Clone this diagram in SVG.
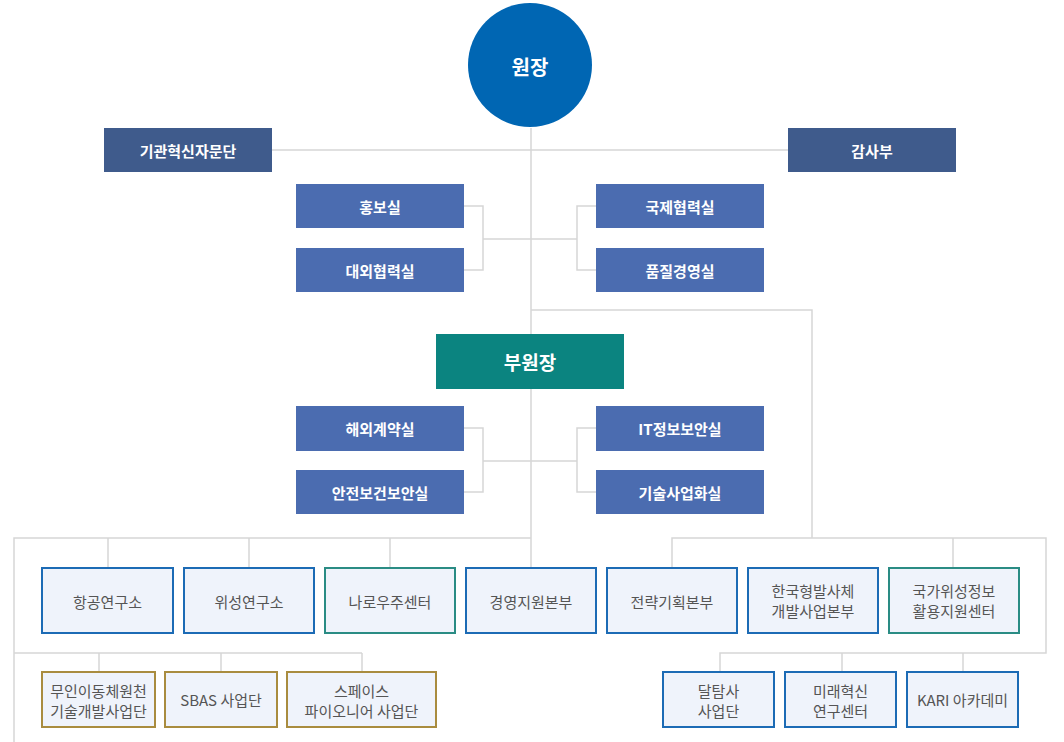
<svg xmlns="http://www.w3.org/2000/svg" width="1064" height="742" viewBox="0 0 1064 742">
<style>
text{font-family:"Noto Sans CJK KR","Noto Sans",sans-serif;text-anchor:middle;dominant-baseline:central}
.w{fill:#fff;font-weight:bold;font-size:15px}
.g{fill:#555;font-size:15px}
.top{fill:#3f5b8c}
.off{fill:#4b6cb0}
.lb{fill:#eff3fb;stroke:#1c6bb5;stroke-width:2}
.lt{fill:#eff3fb;stroke:#2a8c84;stroke-width:2}
.lg{fill:#eff3fb;stroke:#a98c3f;stroke-width:2}
.ln{fill:none;stroke:#d6d6d6;stroke-width:1.5}
</style>
<rect width="1064" height="742" fill="#fff"/>
<g id="connectors" class="ln">
<path d="M531 128V568"/>
<path d="M272 150H788"/>
<path d="M464 206H483V270H464M483 239H577M596 206H577V270H596"/>
<path d="M464 428H483V492H464M483 461H577M596 428H577V492H596"/>
<path d="M531 310H812V538"/>
<path d="M14 742V538H531M108 538V568M249 538V568M390 538V568"/>
<path d="M14 653H362M99 653V672M221 653V672M362 653V672"/>
<path d="M672 568V538H1046V653H720V672M953 538V568M842 653V672M963 653V672"/>
</g>
<g id="n-director"><circle cx="530" cy="65" r="62" fill="#0066b3"/><text x="530" y="66" fill="#fff" font-weight="bold" font-size="20">원장</text></g>
<g id="n-advisory"><rect class="top" x="104" y="128" width="168" height="44"/><text class="w" x="188" y="150">기관혁신자문단</text></g>
<g id="n-audit"><rect class="top" x="788" y="128" width="168" height="44"/><text class="w" x="872" y="150">감사부</text></g>
<g id="n-pr"><rect class="off" x="296" y="184" width="168" height="44"/><text class="w" x="380" y="206">홍보실</text></g>
<g id="n-external"><rect class="off" x="296" y="248" width="168" height="44"/><text class="w" x="380" y="270">대외협력실</text></g>
<g id="n-intl"><rect class="off" x="596" y="184" width="168" height="44"/><text class="w" x="680" y="206">국제협력실</text></g>
<g id="n-quality"><rect class="off" x="596" y="248" width="168" height="44"/><text class="w" x="680" y="270">품질경영실</text></g>
<g id="n-vice"><rect x="436" y="334" width="188" height="55" fill="#0b8480"/><text x="530" y="361" fill="#fff" font-weight="bold" font-size="19">부원장</text></g>
<g id="n-overseas"><rect class="off" x="296" y="406" width="168" height="45"/><text class="w" x="380" y="428">해외계약실</text></g>
<g id="n-safety"><rect class="off" x="296" y="470" width="168" height="44"/><text class="w" x="380" y="492">안전보건보안실</text></g>
<g id="n-itsec"><rect class="off" x="596" y="406" width="168" height="45"/><text class="w" x="680" y="428">IT정보보안실</text></g>
<g id="n-commercial"><rect class="off" x="596" y="470" width="168" height="44"/><text class="w" x="680" y="492">기술사업화실</text></g>
<g id="n-aero"><rect class="lb" x="42" y="568" width="131" height="65"/><text class="g" x="107.5" y="601">항공연구소</text></g>
<g id="n-sat"><rect class="lb" x="184" y="568" width="130" height="65"/><text class="g" x="249" y="601">위성연구소</text></g>
<g id="n-naro"><rect class="lt" x="325" y="568" width="130" height="65"/><text class="g" x="390" y="601">나로우주센터</text></g>
<g id="n-mgmt"><rect class="lb" x="466" y="568" width="130" height="65"/><text class="g" x="531" y="601">경영지원본부</text></g>
<g id="n-strategy"><rect class="lb" x="607" y="568" width="130" height="65"/><text class="g" x="672" y="601">전략기획본부</text></g>
<g id="n-klv"><rect class="lb" x="748" y="568" width="130" height="65"/><text class="g" x="813" y="590">한국형발사체</text><text class="g" x="813" y="610">개발사업본부</text></g>
<g id="n-nsic"><rect class="lt" x="889" y="568" width="130" height="65"/><text class="g" x="954" y="590">국가위성정보</text><text class="g" x="954" y="610">활용지원센터</text></g>
<g id="n-unmanned"><rect class="lg" x="42" y="672" width="113" height="55"/><text class="g" x="98.5" y="690">무인이동체원천</text><text class="g" x="98.5" y="710">기술개발사업단</text></g>
<g id="n-sbas"><rect class="lg" x="165" y="672" width="112" height="55"/><text class="g" x="221" y="699">SBAS 사업단</text></g>
<g id="n-pioneer"><rect class="lg" x="287" y="672" width="149" height="55"/><text class="g" x="361.5" y="690">스페이스</text><text class="g" x="361.5" y="710">파이오니어 사업단</text></g>
<g id="n-lunar"><rect class="lb" x="663" y="672" width="111" height="55"/><text class="g" x="718.5" y="690">달탐사</text><text class="g" x="718.5" y="710">사업단</text></g>
<g id="n-future"><rect class="lb" x="785" y="672" width="111" height="55"/><text class="g" x="840.5" y="690">미래혁신</text><text class="g" x="840.5" y="710">연구센터</text></g>
<g id="n-academy"><rect class="lb" x="907" y="672" width="111" height="55"/><text class="g" x="962.5" y="699">KARI 아카데미</text></g>
</svg>
